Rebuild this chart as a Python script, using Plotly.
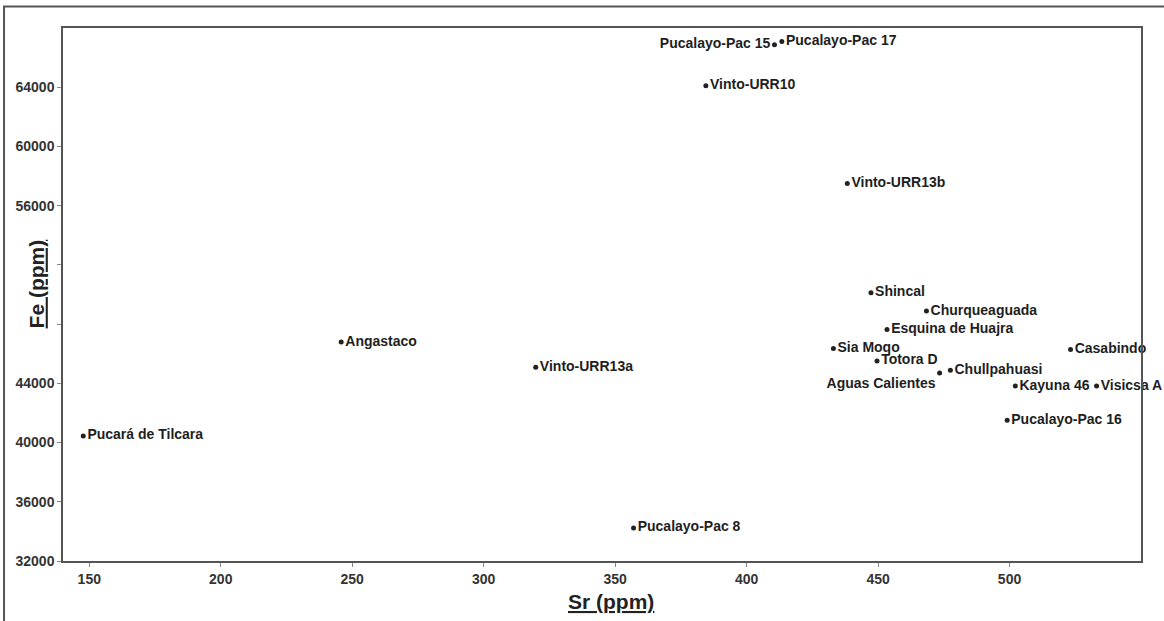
import plotly.graph_objects as go

# ---- data ----
sites = ["Pucará de Tilcara", "Angastaco", "Vinto-URR13a", "Pucalayo-Pac 8",
         "Vinto-URR10", "Pucalayo-Pac 15", "Pucalayo-Pac 17", "Vinto-URR13b",
         "Shincal", "Churqueaguada", "Esquina de Huajra", "Sia Moqo",
         "Totora D", "Aguas Calientes", "Chullpahuasi", "Casabindo",
         "Kayuna 46", "Visicsa A", "Pucalayo-Pac 16"]
sr_ppm = [147.7, 245.8, 319.8, 357.0, 384.5, 410.6, 413.4, 438.3,
          447.3, 468.4, 453.4, 433.0, 449.6, 473.4, 477.5, 523.2,
          502.2, 533.1, 499.1]
fe_ppm = [40450, 46790, 45090, 34230, 64100, 66870, 67090, 57500,
          50120, 48880, 47630, 46350, 45510, 44700, 44880, 46280,
          43820, 43820, 41510]

label_pos = {"Pucalayo-Pac 15": "middle left", "Aguas Calientes": "bottom left"}

y_ticks = [32000, 36000, 40000, 44000, 48000, 52000, 56000, 60000, 64000]
y_ticktext = ["32000", "36000", "40000", "44000", "", "", "56000", "60000", "64000"]
x_ticks = [150, 200, 250, 300, 350, 400, 450, 500]

FONT = "Liberation Sans, Arial, sans-serif"

fig = go.Figure()
fig.add_trace(go.Scatter(
    x=sr_ppm, y=fe_ppm, text=sites,
    mode="markers+text",
    textposition=[label_pos.get(s, "middle right") for s in sites],
    marker=dict(size=5, color="#222222"),
    textfont=dict(family=FONT, size=14, color="#1e1e1e", weight="bold"),
    cliponaxis=False,
    hoverinfo="skip",
    showlegend=False,
))

axis_common = dict(
    showgrid=False, zeroline=False, showline=True, mirror=True,
    linecolor="#555555", linewidth=1.5,
    ticks="outside", ticklen=4, tickcolor="#888888", tickwidth=1,
)

fig.update_xaxes(range=[140, 550], tickvals=x_ticks,
                 tickfont=dict(family=FONT, size=14, color="#333333", weight="bold"),
                 **axis_common)
fig.update_yaxes(range=[32000, 68000], tickvals=y_ticks, ticktext=y_ticktext,
                 tickfont=dict(family=FONT, size=14, color="#333333", weight="bold"),
                 **axis_common)

fig.add_annotation(text="<u>Sr (ppm)</u>", xref="paper", yref="paper",
                   x=0.508, y=-0.05, yanchor="top", showarrow=False,
                   font=dict(family=FONT, size=21, color="#222222", weight="bold"))
fig.add_annotation(text="<u>Fe (ppm)</u>", xref="paper", yref="paper",
                   x=-0.012, y=0.52, xanchor="right", textangle=-90,
                   showarrow=False,
                   font=dict(family=FONT, size=21, color="#222222", weight="bold"))

# outer image frame (top and left edges visible)
fig.add_shape(type="rect", xref="paper", yref="paper",
              x0=-0.0547, y0=-0.3, x1=1.2, y1=1.0403,
              line=dict(color="#555555", width=2), layer="below")

fig.update_layout(
    width=1164, height=621,
    margin=dict(l=63, r=23, t=28, b=60),
    paper_bgcolor="white", plot_bgcolor="white",
    font=dict(family=FONT),
)

fig.write_html("out.html", config={"displayModeBar": False},
               post_script="document.body.style.margin='0';document.body.style.overflow='hidden';")
